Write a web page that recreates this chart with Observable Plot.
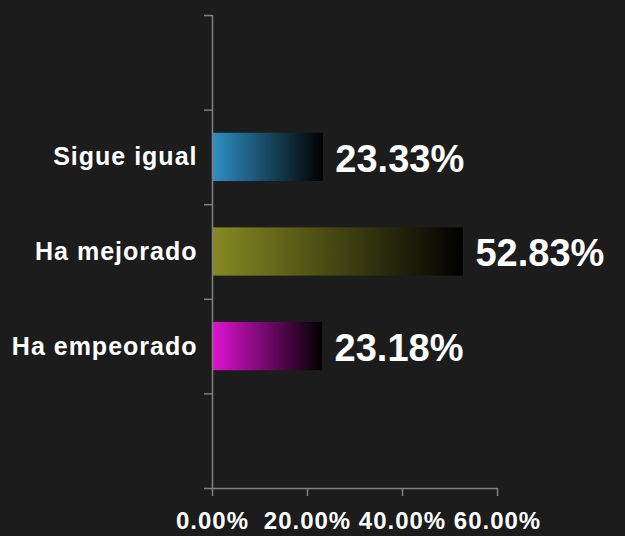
<!DOCTYPE html>
<html><head><meta charset="utf-8">
<script src="https://cdn.jsdelivr.net/npm/d3@7"></script>
<script src="https://cdn.jsdelivr.net/npm/@observablehq/plot@0.6"></script>
<style>html,body{margin:0;padding:0;background:#1c1c1c;}</style>
</head><body><div id="chart"></div>
<script>
const categories = ["Sigue igual", "Ha mejorado", "Ha empeorado"];
const values = [23.33, 52.83, 23.18];
const barColors = ["#2e90c4", "#878a23", "#e012d2"];
const xTicks = [0, 20, 40, 60];
const xTickLabels = ["0.00%", "20.00%", "40.00%", "60.00%"];

const slots = 5; // one empty slot above and one below the three categories
const data = categories.map((c, i) => ({category: c, value: values[i], slot: i + 1, grad: `url(#grad${i})`}));
const axisColor = "#808080";

const plot = Plot.plot({
  width: 625, height: 536,
  marginLeft: 212, marginRight: 128, marginTop: 15, marginBottom: 48,
  style: {background: "#1c1c1c", color: "#fff", fontFamily: "'Liberation Sans', Arial, sans-serif", overflow: "visible"},
  x: {domain: [0, 60], label: null},
  y: {domain: [0, slots], reverse: true, label: null},
  color: {type: "identity"},
  marks: [
    Plot.rectX(data, {x1: 0, x2: "value", y1: d => d.slot + 0.245, y2: d => d.slot + 0.755, fill: "grad"}),
    Plot.axisY(d3.range(0, slots + 1), {tickSize: 8, tickFormat: () => "", label: null, stroke: axisColor, strokeWidth: 1.5}),
    Plot.axisX(xTicks, {tickSize: 8, tickPadding: 15, label: null, tickFormat: d => xTickLabels[xTicks.indexOf(d)], stroke: axisColor, strokeWidth: 1.5, fill: "#fff", fontSize: 24, fontWeight: "bold", className: "xlab"}),
    Plot.ruleX([0], {stroke: axisColor, strokeWidth: 1.5}),
    Plot.ruleY([slots], {stroke: axisColor, strokeWidth: 1.5}),
    Plot.text(data, {x: 0, y: d => d.slot + 0.5, text: "category", textAnchor: "end", dx: -15, fontSize: 25, fontWeight: "bold", fill: "#fff", className: "catlab"}),
    Plot.text(data, {x: "value", y: d => d.slot + 0.5, text: d => d.value.toFixed(2) + "%", textAnchor: "start", dx: 12, dy: 2, fontSize: 38, fontWeight: "bold", fill: "#fff"})
  ]
});

const defs = d3.select(plot).insert("defs", ":first-child");
barColors.forEach((c, i) => {
  const g = defs.append("linearGradient").attr("id", "grad" + i).attr("x1", 0).attr("x2", 1).attr("y1", 0).attr("y2", 0);
  g.append("stop").attr("offset", 0).attr("stop-color", c);
  g.append("stop").attr("offset", 1).attr("stop-color", "#000");
});
d3.select(plot).selectAll(".catlab text").attr("letter-spacing", "1px");
d3.select(plot).selectAll(".xlab text").attr("letter-spacing", "1px");
document.getElementById("chart").appendChild(plot);
</script>
</body></html>
